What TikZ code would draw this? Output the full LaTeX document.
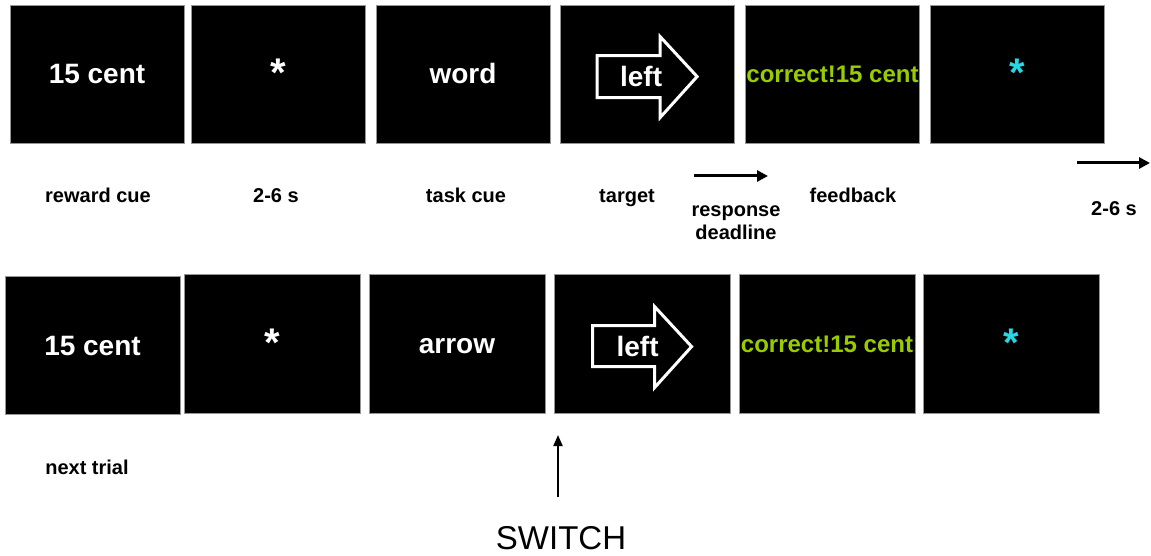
\documentclass[tikz,border=0pt]{standalone}
\usepackage{fontspec}
\setmainfont{Liberation Sans}
\usetikzlibrary{arrows.meta}
\definecolor{fbgreen}{RGB}{153,204,0}
\definecolor{iticyan}{RGB}{40,215,230}
\definecolor{frame}{RGB}{150,150,150}
\newcommand{\fixstar}{\raisebox{-3pt}{*}}
\begin{document}
\begin{tikzpicture}[x=1pt,y=-1pt,
  screen/.style={draw=frame, line width=0.8pt, fill=black, inner sep=0pt,
    minimum width=174pt, minimum height=138pt, text=white,
    text height=20pt, text depth=0pt,
    font=\bfseries\fontsize{28}{30}\selectfont},
  fbtext/.style={text=fbgreen, font=\bfseries\fontsize{24}{26}\selectfont,
    text height=17pt},
  star/.style={font=\bfseries\fontsize{40}{40}\selectfont},
  lab/.style={anchor=base, inner sep=0pt, font=\bfseries\fontsize{20}{23}\selectfont},
  timearrow/.style={line width=3pt, -{Triangle[length=11pt,width=11pt]}},
  cuearrow/.style={draw=white, line width=3pt, fill=black, line join=miter},
]
\fill[white] (0,0) rectangle (1151,556);
\useasboundingbox (0,0) rectangle (1151,556);

% ---- first trial ----
\node[screen] (a1) at (97,74) {15 cent};
\node[screen, star] (a2) at (278,74) {\fixstar};
\node[screen] (a3) at (463,74) {word};
\node[screen] (a4) at (647.5,74) {};
\node[screen, fbtext] (a5) at (832.5,74) {correct!15 cent};
\node[screen, star, text=iticyan] (a6) at (1017,74) {\fixstar};

\begin{scope}[shift={(a4.north west)}]
  \draw[cuearrow] (37,51) -- (37,93) -- (100,93) -- (100,113) -- (137,72)
    -- (100,32) -- (100,51) -- cycle;
  \node[anchor=base, inner sep=0pt, text=white,
    font=\bfseries\fontsize{28}{30}\selectfont] (a4w) at (81,82) {left};
\end{scope}

% ---- labels under the first trial ----
\node[lab] (lrew) at (98,203) {reward cue};
\node[lab] (ldel1) at (276,203) {2-6 s};
\node[lab] (ltask) at (466,203) {task cue};
\node[lab] (ltarg) at (627,203) {target};
\node[lab, align=center] (lresp) at (736,240) {response\\deadline};
\node[lab] (lfb) at (853,203) {feedback};
\node[lab] (ldel2) at (1114,216) {2-6 s};

\coordinate (rdA) at (694,176);
\coordinate (rdB) at (768,176);
\draw[timearrow] (rdA) -- (rdB);
\coordinate (itiA) at (1077,163);
\coordinate (itiB) at (1150,163);
\draw[timearrow] (itiA) -- (itiB);

% ---- next trial ----
\node[screen, minimum width=175pt] (b1) at (92.5,345) {15 cent};
\node[screen, minimum width=176pt, minimum height=139pt, star] (b2) at (272,343.5) {\fixstar};
\node[screen, minimum width=176pt, minimum height=139pt] (b3) at (457,343.5) {arrow};
\node[screen, minimum width=176pt, minimum height=139pt] (b4) at (642,343.5) {};
\node[screen, minimum width=176pt, minimum height=139pt, fbtext] (b5) at (827,343.5) {correct!15 cent};
\node[screen, minimum width=176pt, minimum height=139pt, star, text=iticyan] (b6) at (1011.5,343.5) {\fixstar};

\begin{scope}[shift={(b4.north west)}]
  \draw[cuearrow] (39,52) -- (39,93) -- (101,93) -- (101,114) -- (138,73)
    -- (101,33) -- (101,52) -- cycle;
  \node[anchor=base, inner sep=0pt, text=white,
    font=\bfseries\fontsize{28}{30}\selectfont] (b4w) at (84,83) {left};
\end{scope}

\node[lab] (lnext) at (87,474) {next trial};

% ---- switch marker ----
\node[anchor=base, inner sep=0pt, font=\fontsize{33}{36}\selectfont] (sw) at (561,549) {SWITCH};
\coordinate (swA) at (558,497);
\coordinate (swB) at (558,435);
\draw[line width=2pt, -{Triangle[length=11pt,width=9pt]}] (swA) -- (swB);
\end{tikzpicture}
\end{document}
